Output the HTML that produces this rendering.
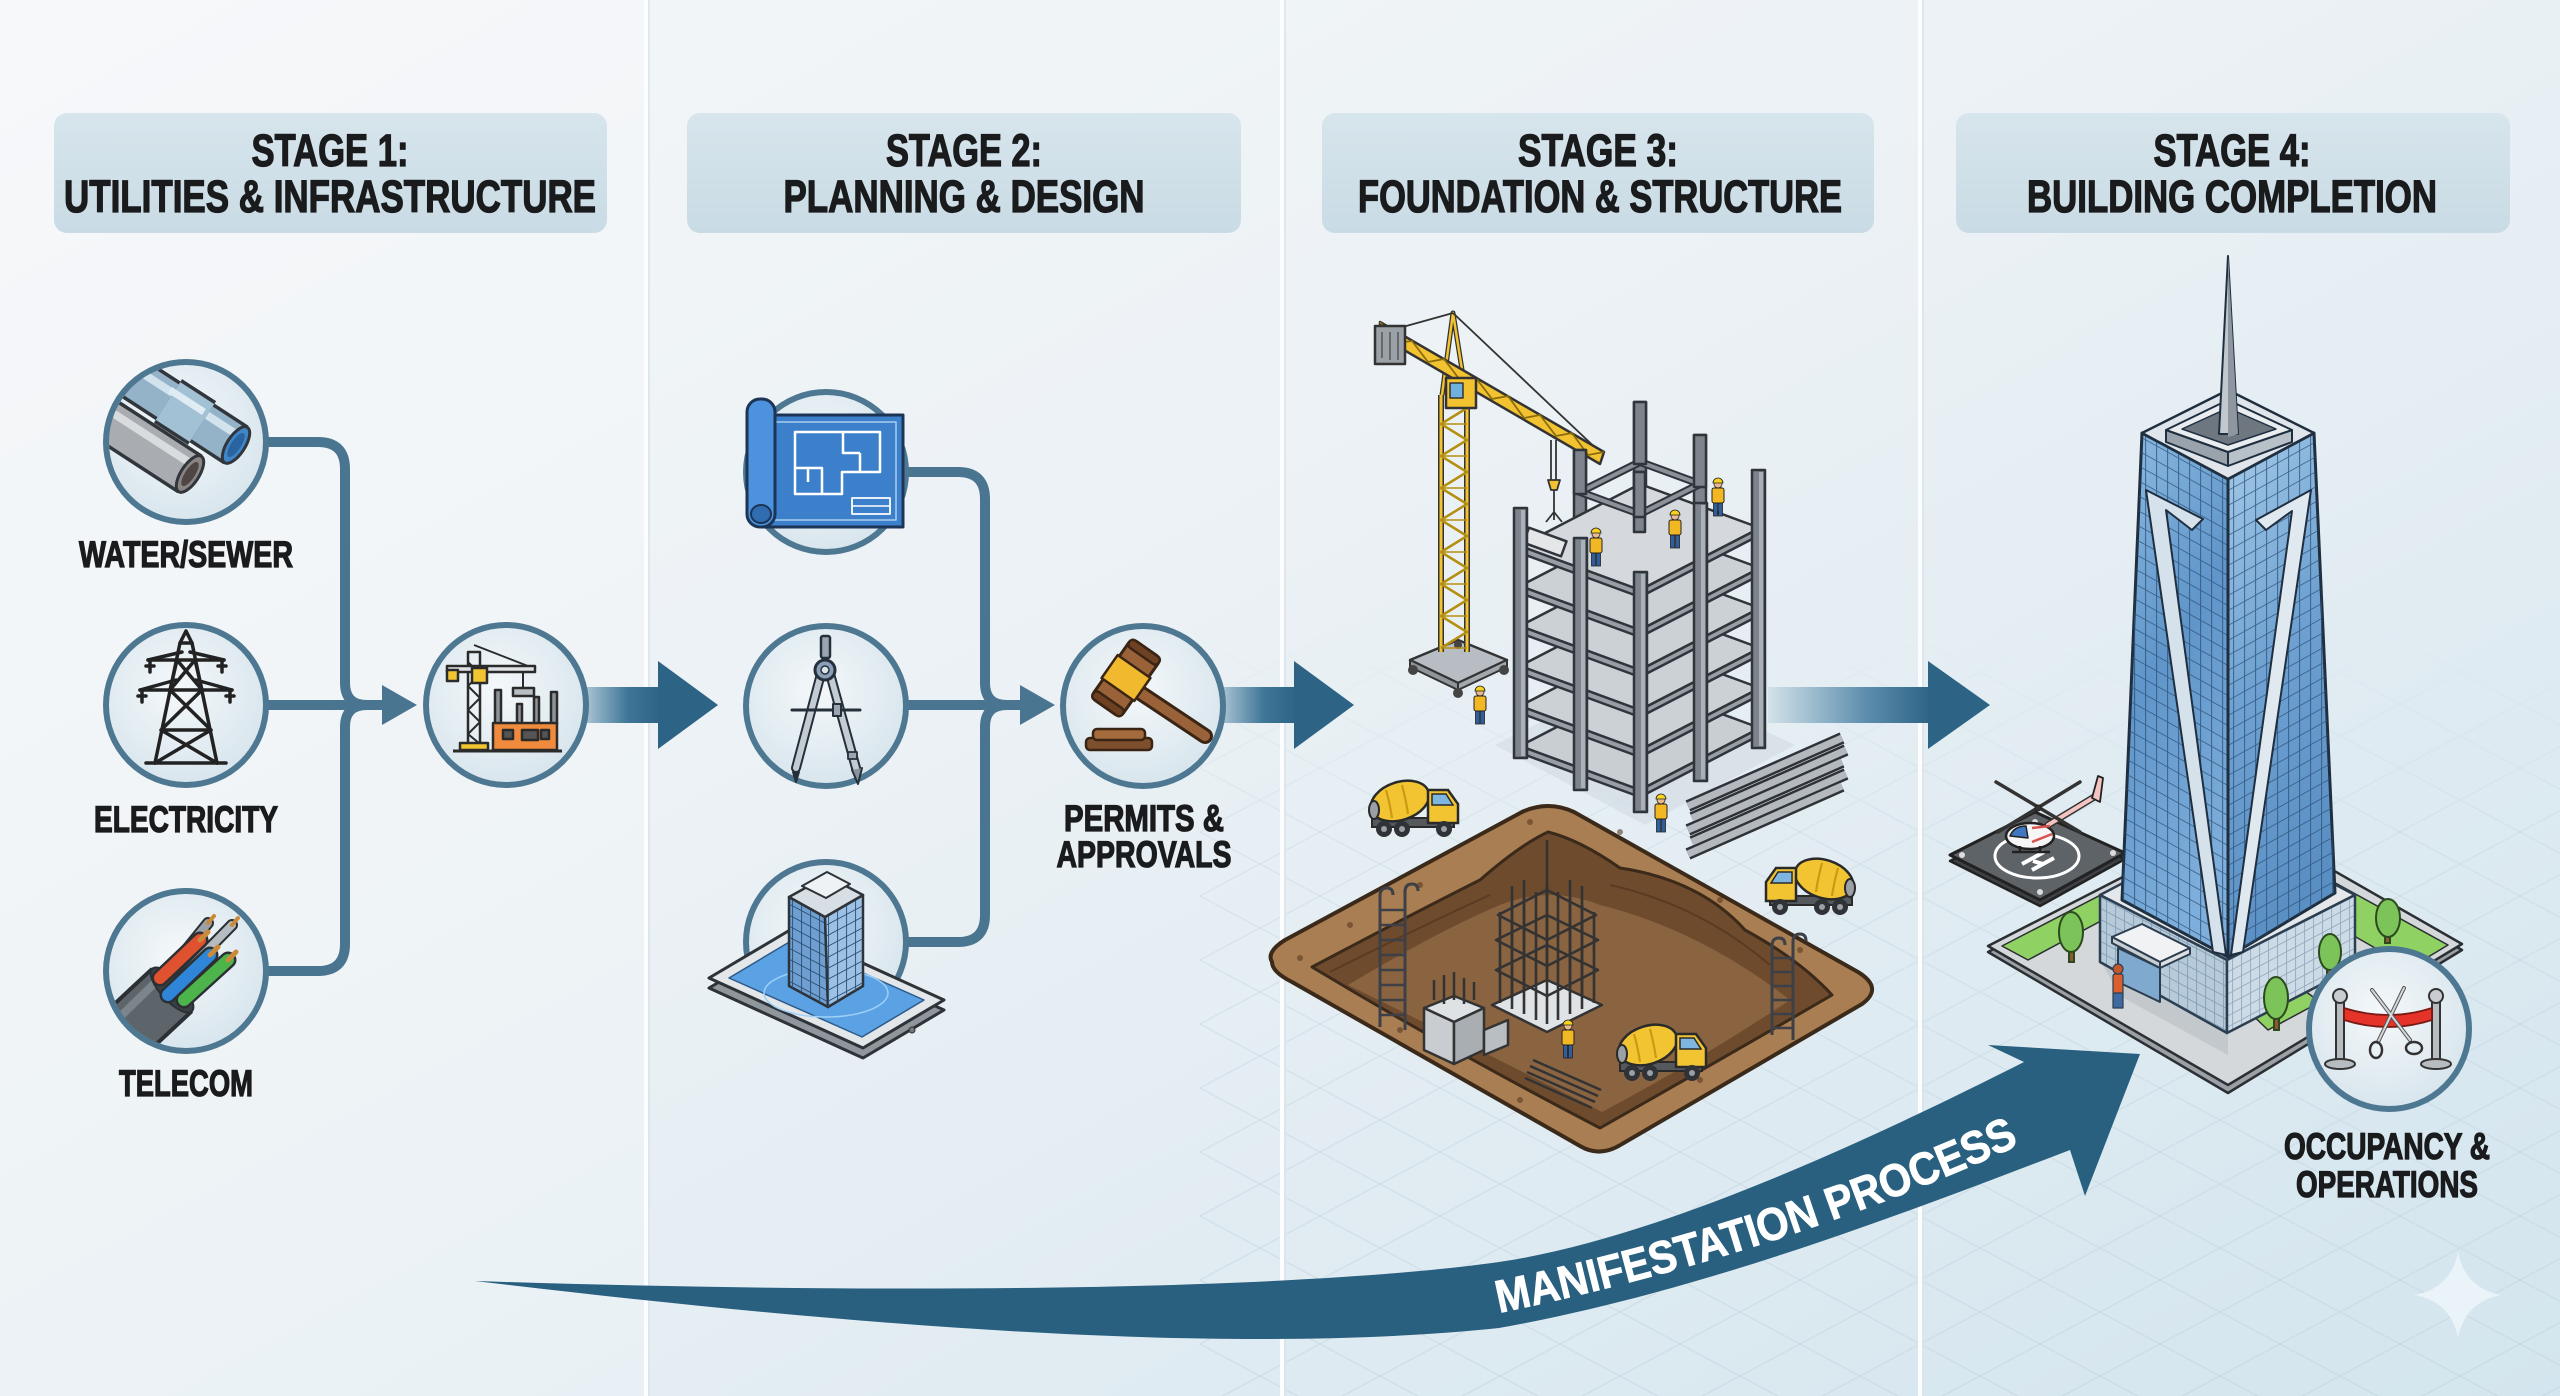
<!DOCTYPE html>
<html><head><meta charset="utf-8"><title>Manifestation Process</title>
<style>
html,body{margin:0;padding:0;background:#eef3f6}
body{width:2560px;height:1396px;overflow:hidden}
svg{display:block}
.h{font-family:"Liberation Sans",Arial,sans-serif;font-weight:700;fill:#1a1b1d;stroke:#1a1b1d;stroke-width:1.3px}
.w{font-family:"Liberation Sans",Arial,sans-serif;font-weight:700;fill:#ffffff;stroke:#ffffff;stroke-width:0.8px}
</style></head><body>
<svg xmlns="http://www.w3.org/2000/svg" width="2560" height="1396" viewBox="0 0 2560 1396">
<defs>
<linearGradient id="bg" x1="0" y1="0" x2="1" y2="1">
<stop offset="0" stop-color="#f5f7f9"/><stop offset="0.45" stop-color="#ebf1f5"/><stop offset="1" stop-color="#d3e5ee"/>
</linearGradient>
<linearGradient id="hdr" x1="0" y1="0" x2="0" y2="1"><stop offset="0" stop-color="#d7e5ec"/><stop offset="1" stop-color="#c9dbe5"/></linearGradient>
<radialGradient id="cf" cx="0.45" cy="0.4" r="0.65"><stop offset="0" stop-color="#f4f8fa"/><stop offset="1" stop-color="#d6e4ec"/></radialGradient>
<linearGradient id="arg" x1="0" y1="0" x2="1" y2="0"><stop offset="0" stop-color="#a9c4d3"/><stop offset="0.55" stop-color="#3f7698"/><stop offset="1" stop-color="#2d6385"/></linearGradient>
<linearGradient id="arg3" x1="0" y1="0" x2="1" y2="0"><stop offset="0" stop-color="#d3e2ea"/><stop offset="0.6" stop-color="#5d8ead"/><stop offset="1" stop-color="#2d6385"/></linearGradient>
<pattern id="iso" width="120" height="64" patternUnits="userSpaceOnUse"><path d="M0,0 L120,64 M120,0 L0,64" stroke="#c3d3de" stroke-width="1.3" fill="none"/></pattern>
<linearGradient id="fadeG" x1="0" y1="0" x2="0" y2="1"><stop offset="0" stop-color="#fff" stop-opacity="0"/><stop offset="0.3" stop-color="#fff" stop-opacity="0.4"/><stop offset="1" stop-color="#fff" stop-opacity="0.55"/></linearGradient>
<mask id="gm"><rect x="1200" y="620" width="1360" height="776" fill="url(#fadeG)"/></mask>
<linearGradient id="gL" x1="0" y1="0" x2="0.3" y2="1"><stop offset="0" stop-color="#8dbbe2"/><stop offset="0.5" stop-color="#5f95c9"/><stop offset="1" stop-color="#7eaedb"/></linearGradient>
<linearGradient id="gR" x1="0" y1="0" x2="0.3" y2="1"><stop offset="0" stop-color="#a6cbe9"/><stop offset="0.5" stop-color="#6fa2d2"/><stop offset="1" stop-color="#5a8fc4"/></linearGradient>
<pattern id="gridL" width="11" height="15" patternUnits="userSpaceOnUse" patternTransform="skewY(29)"><path d="M0,0.5 H11 M0.5,0 V15" stroke="#2a4e74" stroke-width="1.1" fill="none"/></pattern>
<pattern id="gridR" width="11" height="15" patternUnits="userSpaceOnUse" patternTransform="skewY(-29)"><path d="M0,0.5 H11 M0.5,0 V15" stroke="#2a4e74" stroke-width="1.1" fill="none"/></pattern>
<pattern id="gridS" width="9" height="11" patternUnits="userSpaceOnUse" patternTransform="skewY(28)"><path d="M0,0.5 H9 M0.5,0 V11" stroke="#2a4e74" stroke-width="0.9" fill="none"/></pattern>
<pattern id="gridS2" width="9" height="11" patternUnits="userSpaceOnUse" patternTransform="skewY(-28)"><path d="M0,0.5 H9 M0.5,0 V11" stroke="#2a4e74" stroke-width="0.9" fill="none"/></pattern>
<clipPath id="c1"><circle cx="186" cy="442" r="77"/></clipPath>
<clipPath id="c3"><circle cx="186" cy="971" r="77"/></clipPath>
<g id="wk">
<rect x="-4.5" y="-14" width="4" height="14" fill="#2f5e9e" stroke="#222" stroke-width="0.8"/>
<rect x="0.5" y="-14" width="4" height="14" fill="#2f5e9e" stroke="#222" stroke-width="0.8"/>
<rect x="-6" y="-28" width="12" height="15" rx="2" fill="#f2b824" stroke="#222" stroke-width="1"/>
<circle cx="0" cy="-32" r="4" fill="#e9b88f" stroke="#222" stroke-width="0.8"/>
<path d="M-5,-33 A5,5 0 0 1 5,-33 Z" fill="#f7d21e" stroke="#222" stroke-width="0.8"/>
</g>
<g id="trk">
<rect x="4" y="50" width="82" height="9" fill="#55595e" stroke="#2a2a2a" stroke-width="2"/>
<ellipse cx="32" cy="33" rx="30" ry="19" transform="rotate(-18 32 33)" fill="#f3c431" stroke="#2a2a2a" stroke-width="2.5"/>
<path d="M18,22 Q22,36 24,50 M34,17 Q38,32 40,46" stroke="#c99a12" stroke-width="2.2" fill="none"/>
<ellipse cx="6" cy="42" rx="5" ry="9" fill="#9aa0a6" stroke="#2a2a2a" stroke-width="2"/>
<path d="M60,22 L80,22 L90,36 L90,55 L60,55 Z" fill="#f3c431" stroke="#2a2a2a" stroke-width="2.5"/>
<path d="M64,26 L78,26 L85,37 L64,37 Z" fill="#7fb6e0" stroke="#2a2a2a" stroke-width="1.5"/>
<circle cx="16" cy="61" r="8" fill="#2f3236"/><circle cx="34" cy="61" r="8" fill="#2f3236"/><circle cx="76" cy="61" r="8" fill="#2f3236"/>
<circle cx="16" cy="61" r="3" fill="#9aa0a6"/><circle cx="34" cy="61" r="3" fill="#9aa0a6"/><circle cx="76" cy="61" r="3" fill="#9aa0a6"/>
</g>
</defs>

<!-- background -->
<rect x="0" y="0" width="2560" height="1396" fill="url(#bg)"/>
<rect x="0" y="0" width="646" height="1396" fill="#ffffff" opacity="0.18"/>
<rect x="1200" y="620" width="1360" height="776" fill="url(#iso)" mask="url(#gm)"/>
<g stroke="#fbfdfe" stroke-width="4">
<line x1="646" y1="0" x2="646" y2="1396"/><line x1="1282" y1="0" x2="1282" y2="1396"/><line x1="1920" y1="0" x2="1920" y2="1396"/>
</g>
<g stroke="#d9e3e9" stroke-width="1.5">
<line x1="649" y1="0" x2="649" y2="1396"/><line x1="1285" y1="0" x2="1285" y2="1396"/><line x1="1923" y1="0" x2="1923" y2="1396"/>
</g>

<!-- headers -->
<rect x="54" y="113" width="553" height="120" rx="13" fill="url(#hdr)"/>
<rect x="687" y="113" width="554" height="120" rx="13" fill="url(#hdr)"/>
<rect x="1322" y="113" width="552" height="120" rx="13" fill="url(#hdr)"/>
<rect x="1956" y="113" width="554" height="120" rx="13" fill="url(#hdr)"/>
<g class="h" font-size="45" text-anchor="middle">
<text x="330" y="166" textLength="157" lengthAdjust="spacingAndGlyphs">STAGE 1:</text>
<text x="330" y="212" textLength="532" lengthAdjust="spacingAndGlyphs">UTILITIES &amp; INFRASTRUCTURE</text>
<text x="964" y="166" textLength="156" lengthAdjust="spacingAndGlyphs">STAGE 2:</text>
<text x="964" y="212" textLength="361" lengthAdjust="spacingAndGlyphs">PLANNING &amp; DESIGN</text>
<text x="1598" y="166" textLength="160" lengthAdjust="spacingAndGlyphs">STAGE 3:</text>
<text x="1600" y="212" textLength="484" lengthAdjust="spacingAndGlyphs">FOUNDATION &amp; STRUCTURE</text>
<text x="2232" y="166" textLength="157" lengthAdjust="spacingAndGlyphs">STAGE 4:</text>
<text x="2232" y="212" textLength="410" lengthAdjust="spacingAndGlyphs">BUILDING COMPLETION</text>
</g>

<!-- ===== STAGE 1 connectors ===== -->
<g fill="none" stroke="#4a7591" stroke-width="10" stroke-linecap="butt">
<path d="M262,442 H318 Q345,442 345,469 V683 Q345,705 367,705"/>
<path d="M262,971 H318 Q345,971 345,944 V727 Q345,705 367,705"/>
<path d="M262,705 H388"/>
</g>
<polygon points="382,685 417,705 382,725" fill="#4a7591"/>
<rect x="586" y="687" width="76" height="36" fill="url(#arg)"/>
<polygon points="658,661 718,705 658,749" fill="#2d6385"/>

<!-- circles stage 1 -->
<g fill="url(#cf)" stroke="#4e7792" stroke-width="6">
<circle cx="186" cy="442" r="80"/><circle cx="186" cy="705" r="80"/><circle cx="186" cy="971" r="80"/><circle cx="506" cy="705" r="80"/>
</g>

<!-- water pipes -->
<g clip-path="url(#c1)">
<line x1="70" y1="396" x2="190" y2="474" stroke="#30363b" stroke-width="46"/>
<line x1="70" y1="396" x2="190" y2="474" stroke="#a9adb1" stroke-width="39"/>
<line x1="74" y1="388" x2="190" y2="463" stroke="#d9dcdf" stroke-width="8"/>
<ellipse cx="190" cy="474" rx="9" ry="21" transform="rotate(33 190 474)" fill="#8a8582" stroke="#30363b" stroke-width="3"/>
<ellipse cx="190" cy="474" rx="5" ry="14" transform="rotate(33 190 474)" fill="#4d4644"/>
<line x1="84" y1="346" x2="236" y2="445" stroke="#30363b" stroke-width="46"/>
<line x1="84" y1="346" x2="236" y2="445" stroke="#94b3c8" stroke-width="39"/>
<line x1="88" y1="338" x2="236" y2="434" stroke="#d3e3ee" stroke-width="8"/>
<line x1="168" y1="401" x2="202" y2="423" stroke="#30363b" stroke-width="52"/>
<line x1="168" y1="401" x2="202" y2="423" stroke="#a3c1d5" stroke-width="45"/>
<line x1="170" y1="390" x2="204" y2="412" stroke="#e0ecf4" stroke-width="7"/>
<ellipse cx="236" cy="445" rx="9" ry="21" transform="rotate(33 236 445)" fill="#3f86c8" stroke="#30363b" stroke-width="3"/>
<ellipse cx="236" cy="445" rx="5" ry="14" transform="rotate(33 236 445)" fill="#2a64a0"/>
</g>

<!-- pylon -->
<g stroke="#222" stroke-width="3.5" fill="none" stroke-linejoin="round" stroke-linecap="round">
<path d="M180,643 L155,763 M192,643 L217,763"/>
<path d="M180,643 L186,631 L192,643 Z"/>
<path d="M148,660 H224 M140,690 H232"/>
<path d="M148,660 L182,652 M224,660 L190,652 M140,690 L176,680 M232,690 L196,680"/>
<path d="M177,660 L170,690 M195,660 L202,690 M177,660 L202,690 M195,660 L170,690"/>
<path d="M170,690 L211,730 M202,690 L161,730 M161,730 H211 M161,730 L217,763 M211,730 L155,763"/>
<path d="M146,763 H226"/>
<path d="M150,660 V672 M222,660 V672 M142,690 V702 M230,690 V702"/>
<path d="M146,666 H154 M218,666 H226 M138,696 H146 M226,696 H234"/>
</g>

<!-- telecom cable -->
<g clip-path="url(#c3)">
<line x1="70" y1="1085" x2="172" y2="990" stroke="#2b3034" stroke-width="62"/>
<line x1="70" y1="1085" x2="172" y2="990" stroke="#5d656b" stroke-width="54"/>
<line x1="60" y1="1075" x2="160" y2="978" stroke="#7c858c" stroke-width="8"/>
<ellipse cx="172" cy="990" rx="11" ry="29" transform="rotate(-43 172 990)" fill="#3a3f43" stroke="#2b3034" stroke-width="2"/>
<g stroke-linecap="round">
<line x1="170" y1="970" x2="208" y2="923" stroke="#2b3034" stroke-width="12"/><line x1="170" y1="970" x2="208" y2="923" stroke="#9aa2a8" stroke-width="8"/>
<line x1="180" y1="978" x2="232" y2="925" stroke="#2b3034" stroke-width="12"/><line x1="180" y1="978" x2="232" y2="925" stroke="#b5bcc1" stroke-width="8"/>
<line x1="160" y1="978" x2="200" y2="940" stroke="#2b3034" stroke-width="17"/><line x1="160" y1="978" x2="200" y2="940" stroke="#e0512f" stroke-width="12"/>
<line x1="168" y1="995" x2="210" y2="955" stroke="#2b3034" stroke-width="17"/><line x1="168" y1="995" x2="210" y2="955" stroke="#2f86d8" stroke-width="12"/>
<line x1="184" y1="1000" x2="228" y2="960" stroke="#2b3034" stroke-width="17"/><line x1="184" y1="1000" x2="228" y2="960" stroke="#4db34b" stroke-width="12"/>
<line x1="200" y1="940" x2="208" y2="932" stroke="#c98a3a" stroke-width="5"/>
<line x1="210" y1="955" x2="218" y2="947" stroke="#c98a3a" stroke-width="5"/>
<line x1="228" y1="960" x2="236" y2="952" stroke="#c98a3a" stroke-width="5"/>
<line x1="208" y1="923" x2="214" y2="916" stroke="#c98a3a" stroke-width="4"/>
<line x1="232" y1="925" x2="238" y2="918" stroke="#c98a3a" stroke-width="4"/>
</g>
</g>

<!-- crane icon -->
<g stroke="#2b2b2b" stroke-width="2.5" stroke-linejoin="round">
<rect x="495" y="690" width="6" height="34" fill="#8d949a"/>
<rect x="517" y="704" width="5" height="20" fill="#8d949a"/>
<rect x="534" y="697" width="5" height="27" fill="#8d949a"/>
<rect x="551" y="692" width="6" height="32" fill="#8d949a"/>
<rect x="493" y="723" width="64" height="27" fill="#f08a3c"/>
<rect x="503" y="730" width="10" height="9" fill="#555"/>
<rect x="522" y="730" width="16" height="10" fill="#555"/>
<rect x="541" y="730" width="8" height="9" fill="#555"/>
<rect x="468" y="652" width="12" height="92" fill="none"/>
<path d="M468,662 L480,674 L468,686 L480,698 L468,710 L480,722 L468,734 L480,744" fill="none" stroke-width="2"/>
<path d="M474,645 L533,668" fill="none" stroke-width="1.8"/>
<rect x="447" y="666" width="88" height="6" fill="#dfe3e6"/>
<rect x="447" y="670" width="11" height="11" fill="#f3c431"/>
<rect x="472" y="668" width="15" height="15" fill="#f3c431"/>
<line x1="523" y1="672" x2="523" y2="689" stroke-width="2"/>
<rect x="513" y="688" width="21" height="8" fill="#b8bec4"/>
<rect x="460" y="743" width="28" height="7" fill="#f3c431"/>
<line x1="453" y1="751" x2="562" y2="751" stroke-width="3"/>
</g>

<!-- labels stage 1 -->
<g class="h" font-size="37" text-anchor="middle">
<text x="186" y="567" textLength="214" lengthAdjust="spacingAndGlyphs">WATER/SEWER</text>
<text x="186" y="832" textLength="184" lengthAdjust="spacingAndGlyphs">ELECTRICITY</text>
<text x="186" y="1096" textLength="134" lengthAdjust="spacingAndGlyphs">TELECOM</text>
</g>

<!-- ===== STAGE 2 ===== -->
<g fill="none" stroke="#4a7591" stroke-width="10">
<path d="M902,472 H958 Q985,472 985,499 V683 Q985,705 1007,705"/>
<path d="M902,942 H958 Q985,942 985,915 V727 Q985,705 1007,705"/>
<path d="M902,705 H1026"/>
</g>
<polygon points="1020,685 1055,705 1020,725" fill="#4a7591"/>
<rect x="1222" y="687" width="76" height="36" fill="url(#arg)"/>
<polygon points="1294,661 1354,705 1294,749" fill="#2d6385"/>

<g fill="url(#cf)" stroke="#4e7792" stroke-width="6">
<circle cx="826" cy="472" r="80"/><circle cx="826" cy="706" r="80"/><circle cx="826" cy="942" r="80"/><circle cx="1143" cy="706" r="80"/>
</g>

<!-- blueprint -->
<g stroke="#1c3556" stroke-linejoin="round">
<rect x="762" y="415" width="141" height="112" fill="#3c80cb" stroke-width="3"/>
<rect x="770" y="422" width="126" height="98" fill="none" stroke="#a9cdf0" stroke-width="1.5"/>
<rect x="747" y="399" width="28" height="128" rx="13" fill="#4d92dc" stroke-width="3"/>
<ellipse cx="761" cy="514" rx="10" ry="9" fill="#2f6cb0" stroke-width="2"/>
<g fill="none" stroke="#ffffff" stroke-width="2.5">
<path d="M795,432 H880 V472 H842 V494 H795 Z"/>
<path d="M843,432 V453 H860 M795,468 H822 V494 M808,468 V482 M860,453 V472"/>
<rect x="852" y="498" width="38" height="16" stroke-width="1.8"/>
<path d="M852,506 H890" stroke-width="1.5"/>
</g>
</g>

<!-- compass -->
<g stroke="#26303a" stroke-linecap="round" stroke-linejoin="round">
<rect x="821" y="636" width="9" height="22" rx="2" fill="#9aa5b1" stroke-width="2.5"/>
<line x1="822" y1="670" x2="796" y2="768" stroke-width="10"/>
<line x1="822" y1="670" x2="796" y2="768" stroke="#c3cbd3" stroke-width="6"/>
<line x1="829" y1="670" x2="856" y2="768" stroke-width="10"/>
<line x1="829" y1="670" x2="856" y2="768" stroke="#c3cbd3" stroke-width="6"/>
<path d="M793,772 L796,782 L799,772" fill="#26303a" stroke-width="2"/>
<path d="M852,770 L858,784 L862,768" fill="#8a949e" stroke-width="2"/>
<line x1="792" y1="710" x2="860" y2="710" stroke-width="3"/>
<rect x="833" y="704" width="8" height="12" fill="#9aa5b1" stroke-width="2"/>
<rect x="848" y="752" width="9" height="7" fill="#9aa5b1" stroke-width="1.8"/>
<circle cx="825" cy="670" r="10" fill="#8aa0b8" stroke-width="3"/>
<circle cx="825" cy="670" r="4" fill="#dde4ea" stroke-width="1.5"/>
</g>

<!-- tablet with building -->
<g stroke="#2d3338" stroke-linejoin="round">
<polygon points="709,988 790,940 944,1010 863,1058" fill="#8f969c" stroke-width="3"/>
<polygon points="709,978 790,930 944,1000 863,1048" fill="#e3e7ea" stroke-width="3"/>
<polygon points="729,978 791,941 924,1000 862,1037" fill="#5aa2e4" stroke="#2d5a8a" stroke-width="1.5"/>
<ellipse cx="826" cy="993" rx="62" ry="24" fill="none" stroke="#9fd0f7" stroke-width="1.5"/>
<circle cx="912" cy="1030" r="3" fill="#777" stroke-width="1"/>
<polygon points="789,897 825,917 828,1007 789,986" fill="#6f9fd0" stroke-width="2.5"/>
<polygon points="789,897 825,917 828,1007 789,986" fill="url(#gridS)" stroke="none"/>
<polygon points="825,917 863,895 863,986 828,1007" fill="#9cc1e4" stroke-width="2.5"/>
<polygon points="825,917 863,895 863,986 828,1007" fill="url(#gridS2)" stroke="none"/>
<polygon points="789,897 827,876 863,895 825,917" fill="#d7dee4" stroke-width="2.5"/>
<polygon points="802,886 827,872 850,884 826,898" fill="#eef2f5" stroke-width="2"/>
</g>

<!-- gavel -->
<g stroke="#3a2414" stroke-linejoin="round">
<rect x="1086" y="738" width="66" height="12" rx="4" fill="#7d4f2c" stroke-width="2.5"/>
<rect x="1093" y="729" width="52" height="11" rx="4" fill="#a46b3d" stroke-width="2.5"/>
<line x1="1136" y1="690" x2="1205" y2="736" stroke-width="16" stroke-linecap="round"/>
<line x1="1136" y1="690" x2="1205" y2="736" stroke="#9a6238" stroke-width="10" stroke-linecap="round"/>
<g transform="translate(1126,678) rotate(35)">
<rect x="-18" y="-36" width="36" height="72" rx="6" fill="#9a6238" stroke-width="3"/>
<rect x="-20" y="-14" width="40" height="28" fill="#f0b92e" stroke-width="2.5"/>
<rect x="-18" y="-36" width="36" height="9" rx="4" fill="#6e4122" stroke-width="2.5"/>
<rect x="-18" y="27" width="36" height="9" rx="4" fill="#6e4122" stroke-width="2.5"/>
</g>
</g>

<g class="h" font-size="37" text-anchor="middle">
<text x="1144" y="831" textLength="160" lengthAdjust="spacingAndGlyphs">PERMITS &amp;</text>
<text x="1144" y="867" textLength="175" lengthAdjust="spacingAndGlyphs">APPROVALS</text>
</g>

<!-- ===== STAGE 3 ===== -->
<rect x="1768" y="687" width="163" height="36" fill="url(#arg3)"/>
<polygon points="1928,661 1990,705 1928,749" fill="#2d6385"/>

<!-- pit -->
<g stroke="#3b2a1a" stroke-linejoin="round">
<path d="M1272,962 Q1266,952 1285,940 L1522,812 Q1548,800 1574,812 L1858,972 Q1884,988 1862,1004 L1622,1144 Q1600,1158 1580,1146 L1292,982 Q1272,972 1272,962 Z" fill="#a97e52" stroke-width="4"/>
<path d="M1312,967 Q1420,910 1480,880 Q1520,845 1548,832 Q1580,840 1620,868 Q1700,880 1745,930 Q1800,960 1832,995 Q1720,1060 1600,1128 Q1450,1050 1312,967 Z" fill="#6f4b2e" stroke-width="3"/>
<path d="M1348,985 Q1440,930 1500,905 Q1550,885 1600,905 Q1700,930 1790,1000 Q1700,1060 1602,1112 Q1470,1045 1348,985 Z" fill="#8a6341" stroke="none"/>
<path d="M1330,972 Q1430,922 1490,895 M1610,885 Q1700,905 1770,965" fill="none" stroke="#5a3b22" stroke-width="2"/>
</g>
<g fill="#5a3b22" opacity="0.6">
<circle cx="1300" cy="958" r="3"/><circle cx="1350" cy="925" r="3"/><circle cx="1420" cy="885" r="3"/><circle cx="1530" cy="822" r="3"/><circle cx="1620" cy="832" r="3"/><circle cx="1720" cy="900" r="3"/><circle cx="1800" cy="950" r="3"/><circle cx="1700" cy="1080" r="3"/><circle cx="1400" cy="1030" r="3"/><circle cx="1520" cy="1100" r="3"/>
</g>
<!-- ladders -->
<g stroke="#3d4147" fill="none" stroke-width="3">
<path d="M1380,1027 V896 Q1380,888 1387,888 Q1393,888 1393,895"/>
<path d="M1405,1030 V892 Q1405,884 1412,884 Q1418,884 1418,891"/>
<path d="M1380,910 H1405 M1380,925 H1405 M1380,940 H1405 M1380,955 H1405 M1380,970 H1405 M1380,985 H1405 M1380,1000 H1405 M1380,1015 H1405" stroke-width="2.5"/>
<path d="M1772,1035 V946 Q1772,938 1779,938 Q1785,938 1785,945"/>
<path d="M1793,1040 V942 Q1793,934 1800,934 Q1806,934 1806,941"/>
<path d="M1772,958 H1793 M1772,972 H1793 M1772,986 H1793 M1772,1000 H1793 M1772,1014 H1793 M1772,1028 H1793" stroke-width="2.5"/>
</g>
<!-- concrete blocks -->
<g stroke="#333" stroke-width="2.5" stroke-linejoin="round">
<polygon points="1424,1008 1454,996 1484,1008 1454,1022" fill="#dfe2e5"/>
<polygon points="1424,1008 1454,1022 1454,1064 1424,1050" fill="#c9cdd1"/>
<polygon points="1454,1022 1484,1008 1484,1050 1454,1064" fill="#a9aeb3"/>
<polygon points="1484,1030 1508,1020 1508,1045 1484,1055" fill="#b9bec2"/>
<path d="M1434,1000 V980 M1444,1004 V975 M1454,1000 V972 M1464,1004 V978 M1474,1000 V982" fill="none" stroke-width="2.5"/>
</g>
<!-- rebar cage -->
<g stroke="#333" stroke-linejoin="round">
<polygon points="1492,1005 1547,980 1602,1005 1547,1032" fill="#dfe3e6" stroke-width="2.5"/>
<g stroke-width="2.6" fill="none">
<path d="M1500,1003 V912 M1512,1009 V905 M1524,1014 V898 M1536,1020 V892 M1547,1024 V885 M1558,1020 V892 M1570,1014 V898 M1582,1009 V905 M1594,1003 V912"/>
<path d="M1512,995 V886 M1524,990 V880 M1547,978 V870 M1570,990 V880 M1582,995 V886 M1547,900 V840"/>
<path d="M1496,940 L1547,915 L1598,940 L1547,966 Z M1496,970 L1547,945 L1598,970 L1547,996 Z M1498,915 L1547,890 L1596,915 L1547,940 Z"/>
</g>
</g>
<!-- rebar bundle -->
<g stroke="#333" stroke-width="2.5"><path d="M1527,1072 L1595,1102 M1530,1066 L1598,1096 M1533,1060 L1601,1090 M1525,1078 L1592,1108"/></g>
<use href="#wk" x="1568" y="1058"/>
<use href="#trk" transform="translate(1616,1012)"/>

<!-- crane (stage 3) -->
<g stroke-linejoin="round">
<polygon points="1410,660 1458,640 1507,660 1458,683" fill="#b7bdc2" stroke="#333" stroke-width="2.5"/>
<polygon points="1410,660 1458,683 1458,690 1410,667" fill="#8e959b" stroke="#333" stroke-width="2"/>
<polygon points="1458,683 1507,660 1507,667 1458,690" fill="#a2a8ae" stroke="#333" stroke-width="2"/>
<g fill="#444"><circle cx="1413" cy="670" r="5"/><circle cx="1504" cy="670" r="5"/><circle cx="1458" cy="693" r="5"/><circle cx="1458" cy="645" r="4"/></g>
<g stroke="#333" stroke-width="6" fill="none"><path d="M1441,652 V395 M1467,652 V395"/></g>
<g stroke="#f2c230" stroke-width="3" fill="none"><path d="M1441,652 V395 M1467,652 V395"/></g>
<polyline points="1441,648 1467,632 1441,616 1467,600 1441,584 1467,568 1441,552 1467,536 1441,520 1467,504 1441,488 1467,472 1441,456 1467,440 1441,424 1467,408" fill="none" stroke="#b58f12" stroke-width="2.5"/>
<path d="M1441,648 H1467 M1441,616 H1467 M1441,584 H1467 M1441,552 H1467 M1441,520 H1467 M1441,488 H1467 M1441,456 H1467 M1441,424 H1467" stroke="#b58f12" stroke-width="1.5"/>
<path d="M1442,395 L1453,313 L1466,395" fill="none" stroke="#333" stroke-width="5"/>
<path d="M1442,395 L1453,313 L1466,395" fill="none" stroke="#f2c230" stroke-width="2.5"/>
<path d="M1453,313 L1603,455 M1453,313 L1392,330" stroke="#333" stroke-width="1.8" fill="none"/>
<path d="M1380,322 L1604,452 L1600,464 L1380,336 Z" fill="#f2c230" stroke="#333" stroke-width="2.5"/>
<polyline points="1380,322 1396,343 1412,341 1428,362 1444,359 1460,380 1476,378 1492,399 1508,396 1524,418 1540,415 1556,436 1572,433 1588,455 1604,452" fill="none" stroke="#8a6c0c" stroke-width="1.8"/>
<rect x="1375" y="326" width="30" height="38" fill="#9aa1a7" stroke="#333" stroke-width="2.5"/>
<path d="M1382,332 V358 M1390,332 V360 M1398,332 V360" stroke="#555" stroke-width="1.5"/>
<rect x="1446" y="378" width="30" height="30" fill="#f2c230" stroke="#333" stroke-width="2.5"/>
<rect x="1450" y="383" width="13" height="15" fill="#6fb0dd" stroke="#333" stroke-width="1.5"/>
<path d="M1551,440 V480 M1556,440 V480" stroke="#333" stroke-width="1.8"/>
<path d="M1548,480 H1560 L1557,490 H1551 Z" fill="#f2c230" stroke="#333" stroke-width="1.8"/>
<path d="M1554,490 V520 M1546,522 L1554,512 L1562,522" stroke="#333" stroke-width="1.8" fill="none"/>
</g>

<!-- skeleton building -->
<polygon points="1495,745 1640,672 1795,745 1645,825" fill="#d2dbe2" opacity="0.6"/>
<g stroke="#30353b" stroke-width="2.5" stroke-linejoin="round">
<rect x="1634" y="402" width="12" height="290" fill="#7d848c"/>
<rect x="1574" y="450" width="12" height="260" fill="#7d848c"/>
<rect x="1694" y="435" width="12" height="270" fill="#7d848c"/>
<polygon points="1520,746 1640,684 1760,728 1640,790" fill="#c9ced3"/>
<polygon points="1520,746 1640,790 1760,728 1760,735 1640,797 1520,753" fill="#979ea6"/>
<polygon points="1520,706 1640,644 1760,688 1640,750" fill="#ccd1d6"/>
<polygon points="1520,706 1640,750 1760,688 1760,695 1640,757 1520,713" fill="#979ea6"/>
<polygon points="1520,666 1640,604 1760,648 1640,710" fill="#ccd1d6"/>
<polygon points="1520,666 1640,710 1760,648 1760,655 1640,717 1520,673" fill="#979ea6"/>
<polygon points="1520,626 1640,564 1760,608 1640,670" fill="#ccd1d6"/>
<polygon points="1520,626 1640,670 1760,608 1760,615 1640,677 1520,633" fill="#979ea6"/>
<polygon points="1520,586 1640,524 1760,568 1640,630" fill="#ccd1d6"/>
<polygon points="1520,586 1640,630 1760,568 1760,575 1640,637 1520,593" fill="#979ea6"/>
<polygon points="1520,546 1640,484 1760,528 1640,590" fill="#d5d9dd"/>
<polygon points="1520,546 1640,590 1760,528 1760,535 1640,597 1520,553" fill="#979ea6"/>
<rect x="1634" y="472" width="11" height="60" fill="#7d848c"/>
<path d="M1580,492 L1640,462 L1700,484 L1640,514 Z" fill="none" stroke="#30353b" stroke-width="8"/>
<path d="M1580,492 L1640,462 L1700,484 L1640,514 Z" fill="none" stroke="#8a9199" stroke-width="4"/>
<rect x="1574" y="450" width="12" height="44" fill="#7d848c"/>
<rect x="1634" y="402" width="12" height="62" fill="#7d848c"/>
<rect x="1694" y="435" width="12" height="52" fill="#7d848c"/>
<rect x="1634" y="472" width="11" height="45" fill="#7d848c"/>
<rect x="1525" y="534" width="40" height="16" fill="#e4e6e8" transform="rotate(20 1545 542)"/>
<rect x="1514" y="508" width="13" height="250" fill="#7d848c"/>
<rect x="1574" y="538" width="13" height="252" fill="#7d848c"/>
<rect x="1634" y="572" width="13" height="240" fill="#7d848c"/>
<rect x="1694" y="503" width="13" height="278" fill="#7d848c"/>
<rect x="1752" y="470" width="13" height="278" fill="#7d848c"/>
</g>
<g fill="#a9b0b7">
<rect x="1521" y="510" width="4" height="246"/><rect x="1581" y="540" width="4" height="248"/><rect x="1641" y="574" width="4" height="236"/><rect x="1701" y="505" width="4" height="274"/><rect x="1759" y="472" width="4" height="274"/>
</g>
<use href="#wk" x="1596" y="566"/>
<use href="#wk" x="1675" y="548"/>
<use href="#wk" x="1718" y="516"/>
<use href="#wk" x="1480" y="724"/>
<use href="#wk" x="1661" y="832"/>

<!-- steel beams -->
<g stroke-linecap="butt">
<g stroke="#2f3338" stroke-width="12"><path d="M1688,806 L1842,738 M1692,818 L1846,750 M1688,830 L1842,762 M1692,842 L1846,774 M1688,854 L1842,786"/></g>
<g stroke="#b3b9bf" stroke-width="7"><path d="M1688,806 L1842,738 M1692,818 L1846,750 M1688,830 L1842,762 M1692,842 L1846,774 M1688,854 L1842,786"/></g>
</g>
<use href="#trk" transform="translate(1368,768)"/>
<use href="#trk" transform="translate(1856,846) scale(-1,1)"/>

<!-- ===== STAGE 4 ===== -->
<g stroke="#2b2f33" stroke-linejoin="round">
<polygon points="1988,952 2240,823 2462,950 2228,1093" fill="#9aa0a5" stroke-width="2.5"/>
<polygon points="1988,946 2240,817 2462,944 2228,1085" fill="#d4d8db" stroke-width="2.5"/>
<polygon points="2002,946 2118,886 2140,900 2028,960" fill="#8fd162" stroke-width="1.5"/>
<polygon points="2330,880 2448,945 2410,968 2300,905" fill="#8fd162" stroke-width="1.5"/>
<polygon points="2242,1005 2290,980 2320,1002 2268,1030" fill="#8fd162" stroke-width="1.5"/>
<polygon points="2100,960 2228,1030 2228,1055 2120,996" fill="#c3c8cc" stroke="none"/>
</g>
<!-- helipad -->
<g stroke="#222" stroke-linejoin="round">
<polygon points="1950,861 2035,818 2125,859 2040,906" fill="#3e4246" stroke-width="2.5"/>
<polygon points="1950,855 2035,812 2125,853 2040,900" fill="#5e6368" stroke-width="3"/>
<ellipse cx="2037" cy="856" rx="42" ry="22" fill="none" stroke="#ffffff" stroke-width="3"/>
<path d="M2022,864 L2044,852 M2032,870 L2054,858 M2033,861 L2043,864" stroke="#fff" stroke-width="4"/>
<g fill="#ddd" stroke="none"><circle cx="1962" cy="855" r="3"/><circle cx="2113" cy="853" r="3"/><circle cx="2035" cy="822" r="3"/><circle cx="2040" cy="892" r="3"/></g>
<path d="M2048,825 L2096,796" stroke="#333" stroke-width="7" stroke-linecap="round"/>
<path d="M2048,825 L2096,796" stroke="#f4c4c0" stroke-width="4" stroke-linecap="round"/>
<path d="M2092,798 L2098,776 L2103,778 L2100,802 Z" fill="#f4c4c0" stroke-width="1.8"/>
<ellipse cx="2030" cy="836" rx="24" ry="13" fill="#f6f6f6" stroke-width="2.5"/>
<path d="M2010,836 Q2014,826 2026,826 L2028,838 Z" fill="#3f78c0" stroke-width="1.5"/>
<path d="M2032,828 L2050,826 M2032,842 L2052,834" stroke="#d9534f" stroke-width="2.5"/>
<path d="M2012,852 H2050 M2020,846 V852 M2040,846 V852" stroke-width="2.5" fill="none"/>
<path d="M1996,782 L2080,832 M1998,832 L2080,782" stroke="#333" stroke-width="3.5" stroke-linecap="round"/>
<circle cx="2038" cy="808" r="3" fill="#333"/>
</g>
<!-- podium -->
<g stroke="#2c3e50" stroke-width="2.5" stroke-linejoin="round">
<polygon points="2100,895 2228,828 2355,895 2227,960" fill="#e4e8eb"/>
<polygon points="2100,895 2227,960 2227,1033 2100,962" fill="#b6cad9"/>
<polygon points="2100,895 2227,960 2227,1033 2100,962" fill="url(#gridS)" stroke="none" opacity="0.35"/>
<polygon points="2227,960 2355,895 2355,967 2227,1033" fill="#cddbe6"/>
<polygon points="2227,960 2355,895 2355,967 2227,1033" fill="url(#gridS2)" stroke="none" opacity="0.35"/>
</g>
<!-- tower -->
<g stroke="#1f2f40" stroke-linejoin="round">
<polygon points="2142,433 2228,479 2228,957 2122,900" fill="url(#gL)" stroke-width="3"/>
<polygon points="2142,433 2228,479 2228,957 2122,900" fill="url(#gridL)" stroke="none" opacity="0.75"/>
<polygon points="2228,479 2314,433 2335,893 2228,957" fill="url(#gR)" stroke-width="3"/>
<polygon points="2228,479 2314,433 2335,893 2228,957" fill="url(#gridR)" stroke="none" opacity="0.75"/>
<polygon points="2146,490 2203,519 2192,530 2166,510 2226,955 2213,952" fill="#d5e2ec" stroke-width="2"/>
<polygon points="2311,490 2256,520 2266,530 2292,511 2231,955 2243,952" fill="#e0e9f0" stroke-width="2"/>
<line x1="2228" y1="479" x2="2228" y2="957" stroke-width="2.5"/>
<polygon points="2142,433 2228,390 2314,433 2228,479" fill="#dfe5ea" stroke-width="2.5"/>
<polygon points="2166,430 2228,452 2228,466 2166,442" fill="#9aa3ab" stroke-width="2"/>
<polygon points="2228,452 2292,430 2292,442 2228,466" fill="#b9c1c8" stroke-width="2"/>
<polygon points="2166,430 2228,400 2292,430 2228,452" fill="#e9edf0" stroke-width="2"/>
<polygon points="2182,429 2228,408 2276,429 2228,445" fill="#6e7780" stroke-width="1.5"/>
<polygon points="2219,434 2228,256 2238,434" fill="#c0c7cd" stroke-width="2"/>
<polygon points="2228,256 2238,434 2228,437" fill="#8e979f" stroke="none"/>
</g>
<!-- canopy, person, trees -->
<g stroke="#2c3e50" stroke-linejoin="round">
<polygon points="2118,948 2160,968 2160,1002 2118,982" fill="#7fa9cf" stroke-width="2"/>
<polygon points="2112,937 2142,924 2190,948 2160,962" fill="#f0f2f4" stroke-width="2"/>
<polygon points="2112,937 2160,962 2160,968 2112,943" fill="#c9ced2" stroke-width="2"/>
<polygon points="2160,962 2190,948 2190,954 2160,968" fill="#dde1e4" stroke-width="2"/>
<rect x="2113" y="974" width="10" height="20" rx="2" fill="#d9602e" stroke-width="1.2"/>
<rect x="2113" y="993" width="10" height="15" fill="#3f6aa0" stroke-width="1.2"/>
<circle cx="2118" cy="969" r="5" fill="#c4582d" stroke-width="1.2"/>
</g>
<g stroke="#2c4a1e" stroke-width="2">
<rect x="2069" y="945" width="5" height="17" fill="#8a5a2e"/><ellipse cx="2071" cy="932" rx="12" ry="20" fill="#7cc45a"/>
<rect x="2274" y="1012" width="5" height="18" fill="#8a5a2e"/><ellipse cx="2276" cy="998" rx="12" ry="21" fill="#7cc45a"/>
<rect x="2327" y="964" width="5" height="15" fill="#8a5a2e"/><ellipse cx="2330" cy="952" rx="11" ry="18" fill="#7cc45a"/>
<rect x="2385" y="928" width="5" height="15" fill="#8a5a2e"/><ellipse cx="2388" cy="918" rx="12" ry="19" fill="#7cc45a"/>
</g>
<!-- occupancy circle -->
<circle cx="2389" cy="1029" r="80" fill="url(#cf)" stroke="#4e7792" stroke-width="6"/>
<g stroke="#333" stroke-linejoin="round">
<rect x="2336" y="1000" width="8" height="62" fill="#b7bcc0" stroke-width="2"/>
<rect x="2432" y="1000" width="8" height="62" fill="#b7bcc0" stroke-width="2"/>
<circle cx="2340" cy="996" r="7" fill="#c9cdd1" stroke-width="2"/>
<circle cx="2436" cy="996" r="7" fill="#c9cdd1" stroke-width="2"/>
<ellipse cx="2340" cy="1064" rx="15" ry="5" fill="#b7bcc0" stroke-width="2"/>
<ellipse cx="2436" cy="1064" rx="15" ry="5" fill="#b7bcc0" stroke-width="2"/>
<path d="M2344,1008 Q2388,1022 2432,1008 L2432,1020 Q2388,1034 2344,1020 Z" fill="#e5332a" stroke="#7a1a14" stroke-width="1.8"/>
<path d="M2372,990 L2410,1040 M2404,988 L2378,1042" stroke="#555" stroke-width="4" stroke-linecap="round"/>
<path d="M2372,990 L2410,1040 M2404,988 L2378,1042" stroke="#d6d9dc" stroke-width="2" stroke-linecap="round"/>
<ellipse cx="2414" cy="1048" rx="8" ry="6" fill="none" stroke-width="2.5"/>
<ellipse cx="2376" cy="1050" rx="6" ry="8" fill="none" stroke-width="2.5"/>
</g>
<g class="h" font-size="37" text-anchor="middle">
<text x="2387" y="1159" textLength="206" lengthAdjust="spacingAndGlyphs">OCCUPANCY &amp;</text>
<text x="2387" y="1197" textLength="182" lengthAdjust="spacingAndGlyphs">OPERATIONS</text>
</g>

<!-- ===== Manifestation arrow ===== -->
<path d="M475,1281 C900,1295 1300,1290 1499,1262 C1650,1240 1850,1150 2024,1062 L1988,1045 L2140,1054 L2085,1196 L2070,1150 C1900,1215 1700,1292 1499,1328 C1250,1354 900,1332 475,1281 Z" fill="#29607f"/>
<path id="tp" d="M1499,1313 Q1790,1252 2034,1138" fill="none"/>
<text class="w" font-size="46"><textPath href="#tp" textLength="548" lengthAdjust="spacingAndGlyphs">MANIFESTATION PROCESS</textPath></text>

<!-- sparkle -->
<path d="M2458,1252 Q2465,1288 2501,1295 Q2465,1302 2458,1338 Q2451,1302 2415,1295 Q2451,1288 2458,1252 Z" fill="#e9f3f8"/>
</svg>
</body></html>
